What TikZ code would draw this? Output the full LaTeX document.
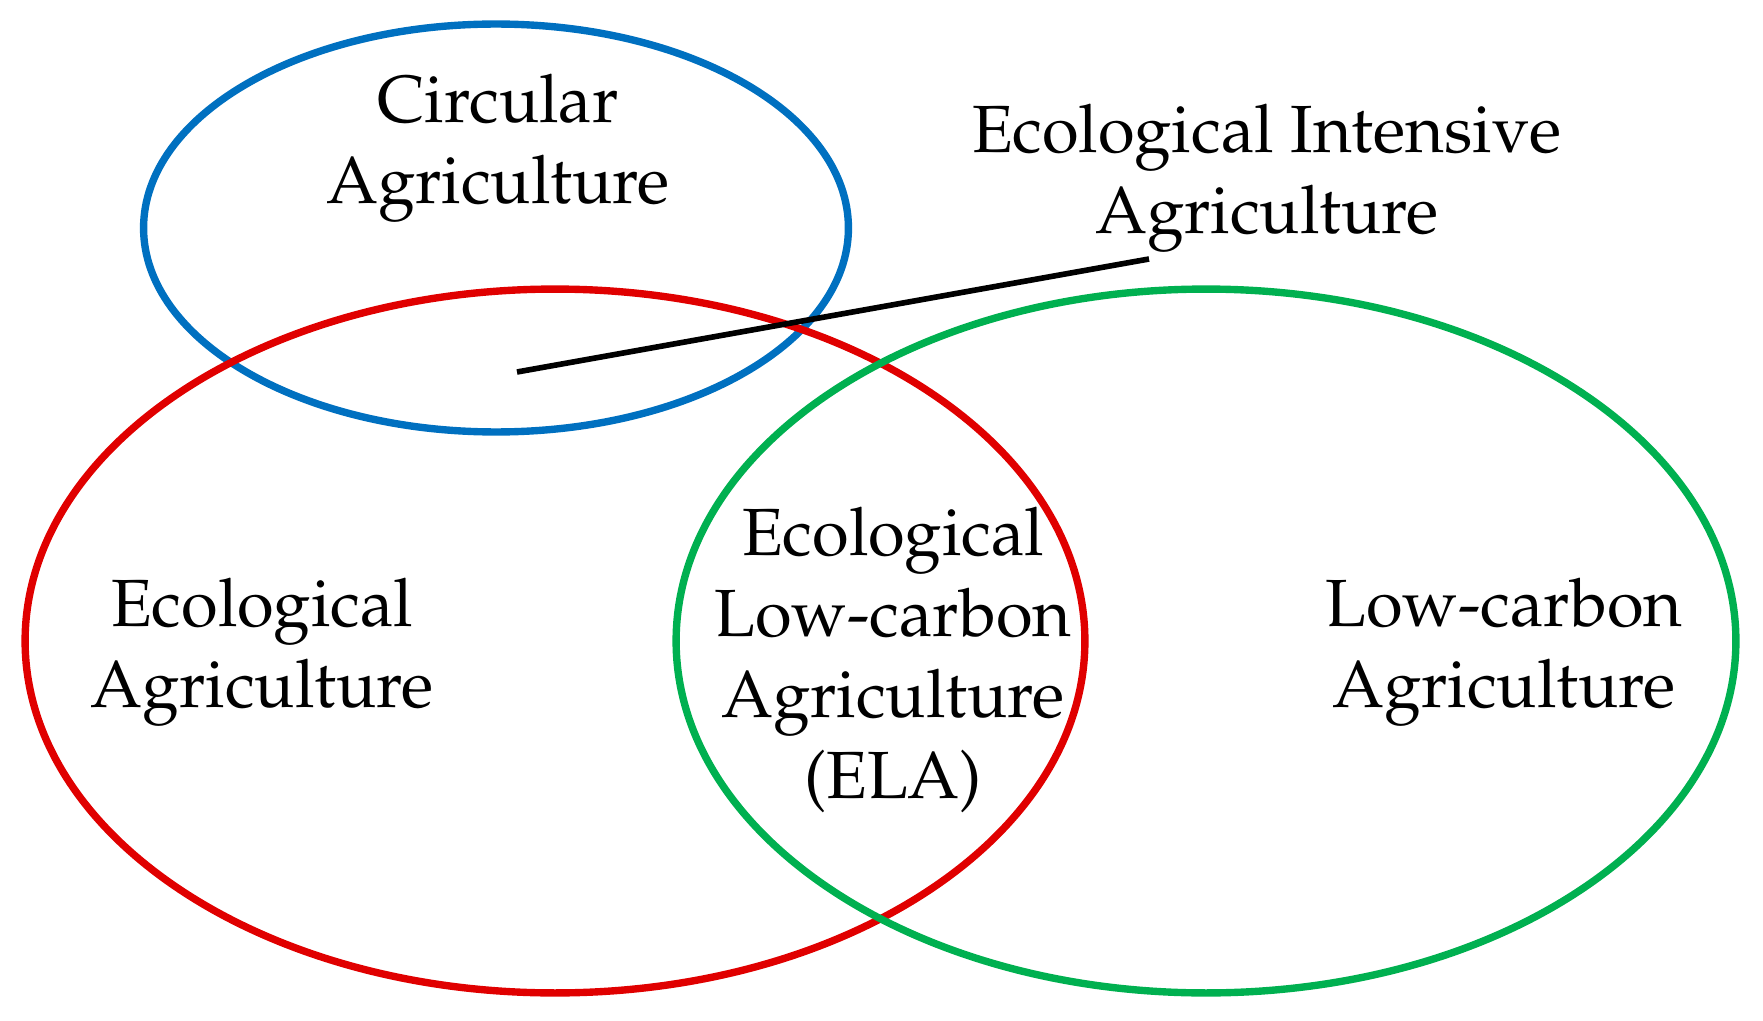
\documentclass[tikz,border=0pt]{standalone}
\IfFileExists{mathpazo.sty}{\usepackage[T1]{fontenc}\usepackage{mathpazo}}{\usepackage{fontspec}\setmainfont{Liberation Serif}}
\usetikzlibrary{shapes.geometric}
\definecolor{cblue}{RGB}{0,112,192}
\definecolor{cred}{RGB}{224,0,0}
\definecolor{cgreen}{RGB}{0,176,80}
\tikzset{
  ring/.style={ellipse, draw, line width=4.2pt, inner sep=0pt, fill=none},
  lbl/.style={align=center, font=\fontsize{38}{46}\selectfont, inner sep=0pt},
}
\begin{document}
\begin{tikzpicture}[x=0.02cm, y=-0.02cm]
\useasboundingbox (0,0) rectangle (1763,1020);
\node[ring, draw=cblue, minimum width=14.1cm, minimum height=8.16cm] (circ) at (496,228) {};
\node[ring, draw=cred, minimum width=21.2cm, minimum height=14.08cm] (eco) at (555,641) {};
\node[ring, draw=cgreen, minimum width=21.2cm, minimum height=14.08cm] (low) at (1206,641) {};
\coordinate (p1) at (517,372);
\coordinate (p2) at (1149,259);
\draw[line width=3.2pt] (p1) -- (p2);
\node[lbl] (tcirc) at (498,148) {Circular\\Agriculture};
\node[lbl] (tint) at (1267,178) {Ecological Intensive\\Agriculture};
\node[lbl] (teco) at (262,652) {Ecological\\Agriculture};
\node[lbl] (tela) at (893,660) {Ecological\\Low-carbon\\Agriculture\\(ELA)};
\node[lbl] (tlow) at (1504,652) {Low-carbon\\Agriculture};
\end{tikzpicture}
\end{document}
